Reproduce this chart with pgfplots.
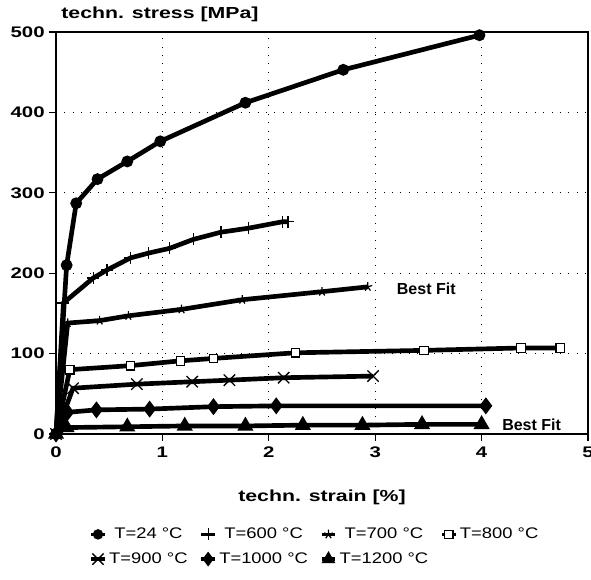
\documentclass[border=0pt]{standalone}
\usepackage{fontspec}
\setmainfont{Liberation Sans}
\newfontfamily\widefont[FakeStretch=1.33]{Liberation Sans}
\newfontfamily\legfont[FakeStretch=1.2]{Liberation Sans}
\usepackage{pgfplots}
\pgfplotsset{compat=1.18}

% series: strain [%], stress [MPa]
\pgfplotstableread{
x y
0 0
0.10 210
0.19 287
0.39 317
0.67 339
0.98 364
1.78 412
2.70 453
3.98 496
}\tA
\pgfplotstableread{
x y
0 0
0.07 163
0.35 194
0.48 204
0.70 219
0.87 225
1.07 231
1.29 242
1.55 251
1.81 256
2.13 264
2.18 264
}\tB
\pgfplotstableread{
x y
0 0
0.11 138
0.41 141
0.68 147
1.18 155
1.75 167
2.50 177
2.93 183
}\tC
\pgfplotstableread{
x y
0 0
0.13 80
0.70 85
1.17 91
1.48 94
2.25 101
3.46 104
4.37 107
4.74 107
}\tD
\pgfplotstableread{
x y
0 0
0.16 57
0.76 62
1.28 65
1.63 67
2.14 70
2.98 72
}\tE
\pgfplotstableread{
x y
0 0
0.11 27
0.38 30
0.88 31
1.48 34
2.07 35
4.04 35
}\tF
\pgfplotstableread{
x y
0 0
0.10 8
0.67 9
1.21 10
1.78 10
2.32 11
2.88 11
3.44 12
4.00 12
}\tG

\begin{document}
\begin{tikzpicture}
\useasboundingbox (-42pt,-109.5pt) rectangle (401.25pt,325.5pt);
\begin{axis}[
    scale only axis,
    width=399pt, height=301.5pt,
    xmin=0, xmax=5, ymin=0, ymax=500,
    xtick={0,1,2,3,4,5},
    ytick={0,100,200,300,400,500},
    xtick pos=bottom, ytick pos=left,
    tick align=outside,
    major tick length=5pt,
    tick style={black, line width=0.8pt},
    axis line style={line width=1pt},
    grid=major,
    grid style={black, line width=0.8pt, dash pattern=on 0.8pt off 5.5pt},
    /pgf/number format/assume math mode=true,
    ticklabel style={font=\widefont\bfseries\fontsize{11.5}{13}\selectfont},
    xticklabel style={yshift=-1pt},
    clip=false,
    every axis plot/.append style={black, line width=3.5pt},
    legend columns=4,
    legend style={
        draw=none, fill=none,
        at={(0.055,-0.22)}, anchor=north west,
        font=\legfont\fontsize{11.5}{13}\selectfont,
        /tikz/every even column/.append style={column sep=7pt},
        row sep=5pt,
    },
    legend image code/.code={
        \draw[mark repeat=2, mark phase=2, #1, line width=2.5pt] plot coordinates {(0cm,0cm) (0.18cm,0cm) (0.36cm,0cm)};
    },
]
\addplot[mark=*, mark options={solid, mark size=2.6pt}] table {\tA};
\addlegendentry{T=24 °C}
\addplot[mark=+, mark options={solid, line width=0.9pt, mark size=4.5pt}] table {\tB};
\addlegendentry{T=600 °C}
\addplot[mark=star, mark options={solid, line width=0.9pt, mark size=3.5pt}] table {\tC};
\addlegendentry{T=700 °C}
\addplot[mark=square*, mark options={solid, fill=white, line width=0.9pt, mark size=3.2pt}] table {\tD};
\addlegendentry{T=800 °C}
\addplot[mark=x, mark options={solid, line width=1pt, mark size=6pt}] table {\tE};
\addlegendentry{T=900 °C}
\addplot[mark=diamond*, mark options={solid, mark size=3.5pt}] table {\tF};
\addlegendentry{T=1000 °C}
\addplot[mark=triangle*, mark options={solid, mark size=3.5pt}] table {\tG};
\addlegendentry{T=1200 °C}
\node[font=\bfseries\fontsize{12}{14}\selectfont] at (axis cs:3.48,181) {Best Fit};
\node[font=\bfseries\fontsize{12}{14}\selectfont] at (axis cs:4.47,11) {Best Fit};
\end{axis}
\node[anchor=west, font=\widefont\bfseries\fontsize{12}{14}\selectfont] at (0.5pt,315pt) {techn. stress [MPa]};
\node[font=\widefont\bfseries\fontsize{12}{14}\selectfont] at (199.5pt,-47.25pt) {techn. strain [\%]};
\end{tikzpicture}
\end{document}
